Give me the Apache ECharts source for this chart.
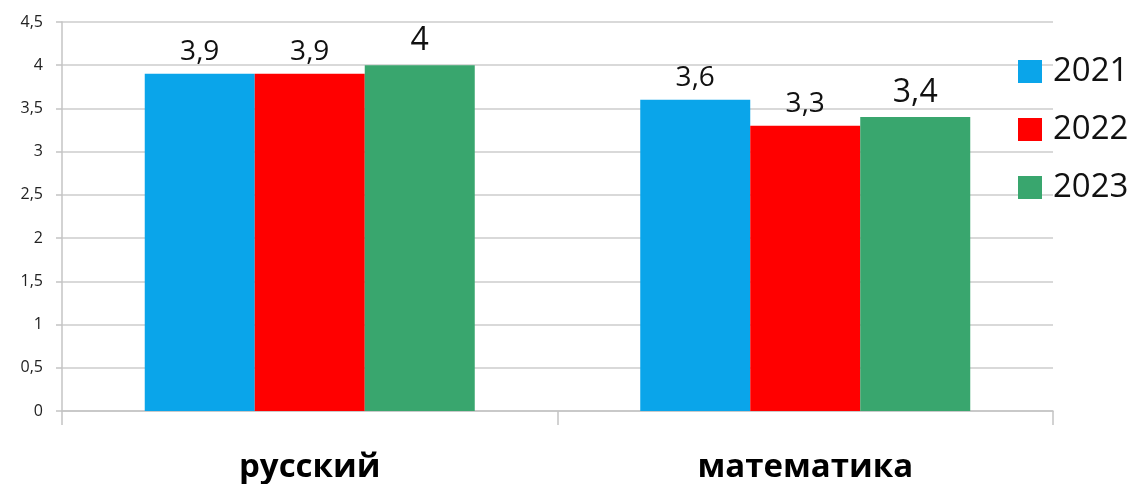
<!DOCTYPE html>
<html>
<head>
<meta charset="utf-8">
<script src="https://cdn.jsdelivr.net/npm/echarts@6/dist/echarts.min.js"></script>
<style>html,body{margin:0;padding:0;background:#fff;}#c{width:1135px;height:484px;}</style>
</head>
<body>
<div id="c"></div>
<script>
const categories = ['русский', 'математика'];
const seriesNames = ['2021', '2022', '2023'];
const values2021 = [3.9, 3.6];
const values2022 = [3.9, 3.3];
const values2023 = [4.0, 3.4];
const colors = ['#0aa5ea', '#ff0000', '#39a66e'];

const fmt = v => String(v).replace('.', ',');
const FONT = '"Open Sans", "Noto Sans", sans-serif';

function mkSeries(name, data, color, labelSize) {
  return {
    name: name, type: 'bar', data: data,
    barWidth: '22.2%', barGap: '0%', barCategoryGap: '33%',
    itemStyle: { color: color },
    label: {
      show: true, position: 'top', distance: 8,
      fontFamily: FONT, fontSize: labelSize, color: '#111',
      formatter: p => fmt(p.value)
    }
  };
}

const chart = echarts.init(document.getElementById('c'), null, { renderer: 'canvas' });
chart.setOption({
  animation: false,
  backgroundColor: '#ffffff',
  grid: { left: 62, right: 82, top: 22, bottom: 72, containLabel: false },
  legend: {
    orient: 'vertical', left: 1013, top: 49,
    itemWidth: 24, itemHeight: 23, itemGap: 23,
    icon: 'rect',
    data: seriesNames,
    textStyle: { fontFamily: FONT, fontSize: 33, color: '#111', lineHeight: 35, padding: [0, 0, 0, 6] }
  },
  xAxis: {
    type: 'category', data: categories,
    axisLine: { lineStyle: { color: '#c4c4c4', width: 1.5 } },
    axisTick: { show: true, length: 14, alignWithLabel: false, lineStyle: { color: '#c4c4c4', width: 1.5 } },
    axisLabel: { fontFamily: FONT, fontSize: 33, fontWeight: 'bold', color: '#000', margin: 40 }
  },
  yAxis: {
    type: 'value', min: 0, max: 4.5, interval: 0.5,
    axisLine: { show: true, lineStyle: { color: '#c4c4c4', width: 1.5 } },
    axisTick: { show: true, length: 6, lineStyle: { color: '#c4c4c4', width: 1.5 } },
    splitLine: { lineStyle: { color: '#cccccc', width: 1.5 } },
    axisLabel: { fontFamily: FONT, fontSize: 16, color: '#222', margin: 19, formatter: v => fmt(v) }
  },
  series: [
    mkSeries(seriesNames[0], values2021, colors[0], 28),
    mkSeries(seriesNames[1], values2022, colors[1], 28),
    mkSeries(seriesNames[2], values2023, colors[2], 32)
  ]
});
</script>
</body>
</html>
